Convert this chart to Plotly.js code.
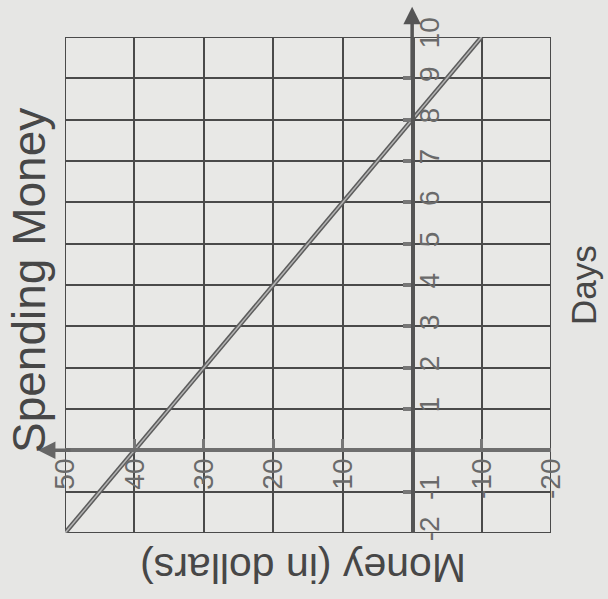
<!DOCTYPE html>
<html><head><meta charset="utf-8">
<script src="https://cdn.plot.ly/plotly-3.0.1.min.js"></script>
<style>html,body{margin:0;padding:0;background:#e6e6e4;}</style>
</head><body><div id="chart" style="width:608px;height:599px;"></div>
<script>
// Data (photo is rotated: Days run upward, Money runs right-to-left)
const days = [-2, 0, 8, 10];
const money = [50, 40, 0, -10];
const dayTicks = [-2, -1, 1, 2, 3, 4, 5, 6, 7, 8, 9, 10];
const dayTickLabels = ['-2', '-1', '1', '2', '3', '4', '5', '6', '7', '8', '9', '10'];
const moneyTicks = [50, 40, 30, 20, 10, -10, -20];
const moneyTickLabels = ['50', '40', '30', '20', '10', '-10', '-20'];
const chartTitle = 'Spending Money';
const daysTitle = 'Days';
const moneyTitle = 'Money (in dollars)';

const xRange = [moneyTicks[0], moneyTicks[moneyTicks.length - 1]];
const yRange = [dayTicks[0], dayTicks[dayTicks.length - 1]];
const W = 608, H = 599;
const M = {l: 65, r: 57, t: 37, b: 66};
const pw = W - M.l - M.r, ph = H - M.t - M.b;
const px2x = p => (p - M.l) / pw;
const py2y = p => (H - M.b - p) / ph;

const tickFont = {family: 'Liberation Sans, Arial, sans-serif', size: 28, color: '#6a6a6a'};

const traces = [
  {x: money, y: days, mode: 'lines', line: {color: '#5c5c5c', width: 4.5}, hoverinfo: 'skip'},
  {x: money, y: days, mode: 'lines', line: {color: '#b4b4b4', width: 1.5}, hoverinfo: 'skip'}
];

const layout = {
  width: W, height: H,
  margin: M,
  paper_bgcolor: '#e6e6e4',
  plot_bgcolor: '#e8e8e6',
  showlegend: false,
  xaxis: {
    range: xRange, tickmode: 'array', tickvals: moneyTicks, ticktext: moneyTickLabels,
    anchor: 'free', position: (0 - yRange[0]) / (yRange[1] - yRange[0]), side: 'bottom',
    showline: true, linecolor: '#6e6e6e', linewidth: 4,
    ticks: 'inside', ticklen: 9, tickwidth: 3, tickcolor: '#777',
    tickangle: -90, tickfont: tickFont, ticklabelstandoff: -5,
    showgrid: true, gridcolor: '#4a4a4a', gridwidth: 2, zeroline: false, fixedrange: true
  },
  yaxis: {
    range: yRange, tickmode: 'array', tickvals: dayTicks, ticktext: dayTickLabels,
    anchor: 'free', position: (xRange[0] - 0) / (xRange[0] - xRange[1]), side: 'right',
    showline: true, linecolor: '#555', linewidth: 3.5,
    ticks: 'inside', ticklen: 8, tickwidth: 4, tickcolor: '#777',
    tickangle: -90, tickfont: tickFont, ticklabelstandoff: -9,
    showgrid: true, gridcolor: '#4a4a4a', gridwidth: 2, zeroline: false, fixedrange: true
  },
  shapes: [
    {type: 'rect', xref: 'x', yref: 'y', x0: xRange[0], x1: xRange[1], y0: yRange[0], y1: yRange[1],
     line: {color: '#4a4a4a', width: 2}, layer: 'below'}
  ],
  annotations: [
    {xref: 'x', yref: 'y', axref: 'x', ayref: 'y', x: 0, y: 10.73, ax: 0, ay: 9, text: '',
     showarrow: true, arrowhead: 2, arrowsize: 1, arrowwidth: 3.5, arrowcolor: '#555'},
    {xref: 'x', yref: 'y', axref: 'x', ayref: 'y', x: 53.9, y: 0, ax: 49, ay: 0, text: '',
     showarrow: true, arrowhead: 2, arrowsize: 1, arrowwidth: 3.5, arrowcolor: '#666'},
    {xref: 'paper', yref: 'paper', x: px2x(29), y: py2y(281), text: chartTitle, textangle: -90,
     showarrow: false, xanchor: 'center', yanchor: 'middle',
     font: {family: 'Liberation Sans, Arial, sans-serif', size: 46, color: '#474747'}},
    {xref: 'paper', yref: 'paper', x: px2x(583), y: py2y(285), text: daysTitle, textangle: -90,
     showarrow: false, xanchor: 'center', yanchor: 'middle',
     font: {family: 'Liberation Sans, Arial, sans-serif', size: 35, color: '#474747'}},
    {xref: 'paper', yref: 'paper', x: px2x(303), y: py2y(568), text: moneyTitle, textangle: 180,
     showarrow: false, xanchor: 'center', yanchor: 'middle',
     font: {family: 'Liberation Sans, Arial, sans-serif', size: 41, color: '#474747'}}
  ]
};

Plotly.newPlot('chart', traces, layout, {staticPlot: true, displayModeBar: false});
</script>
</body></html>
